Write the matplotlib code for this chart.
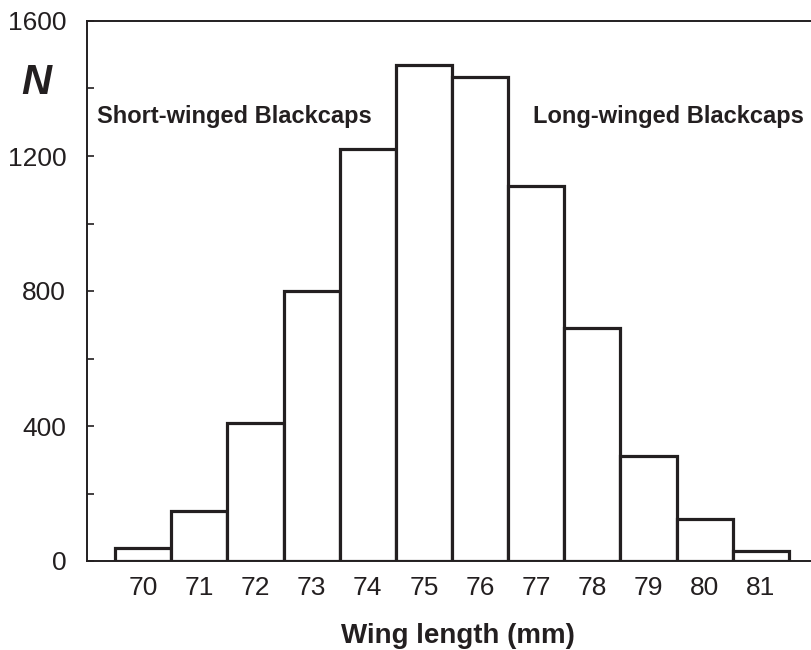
import numpy as np
import matplotlib
matplotlib.use("Agg")
import matplotlib.pyplot as plt
from matplotlib.ticker import MultipleLocator

plt.rcParams['font.family'] = ['Liberation Sans', 'DejaVu Sans']

# wing length classes (mm) and number of birds
wing = [70, 71, 72, 73, 74, 75, 76, 77, 78, 79, 80, 81]
counts = [40, 148, 410, 800, 1220, 1470, 1435, 1110, 690, 310, 125, 30]

ink = '#231f20'

fig = plt.figure(figsize=(8.12, 6.5), dpi=100)
ax = fig.add_axes([87/812, 89/650, 730/812, 540/650])

# histogram bars
ax.bar(wing, counts, width=1.0, color='white', edgecolor=ink, linewidth=2.3, zorder=3)

ax.set_xlim(69, 82)
ax.set_ylim(0, 1600)
ax.set_xticks(wing)
ax.yaxis.set_major_locator(MultipleLocator(400))
ax.yaxis.set_minor_locator(MultipleLocator(200))

for s in ax.spines.values():
    s.set_color(ink)
    s.set_linewidth(1.4)

ax.tick_params(axis='both', which='both', direction='in', colors=ink, labelcolor=ink,
               width=1.2, labelsize=19)
ax.tick_params(axis='y', which='major', length=5, pad=15)
ax.tick_params(axis='y', which='minor', length=5)
ax.tick_params(axis='x', length=4, pad=11)

# axis label
fig.text(458/812, 1 - 636/650, 'Wing length (mm)', fontsize=20, fontweight='bold',
         color=ink, ha='center', va='center')

# annotations
fig.text(36/812, 1 - 83/650, 'N', fontsize=30, fontweight='bold', fontstyle='italic',
         color=ink, ha='center', va='center')
fig.text(97/812, 1 - 116/650, 'Short-winged Blackcaps',
         fontsize=17, fontweight='bold', color=ink, ha='left', va='center')
fig.text(533/812, 1 - 116/650, 'Long-winged Blackcaps',
         fontsize=17, fontweight='bold', color=ink, ha='left', va='center')

fig.savefig('out.png', dpi=100)
